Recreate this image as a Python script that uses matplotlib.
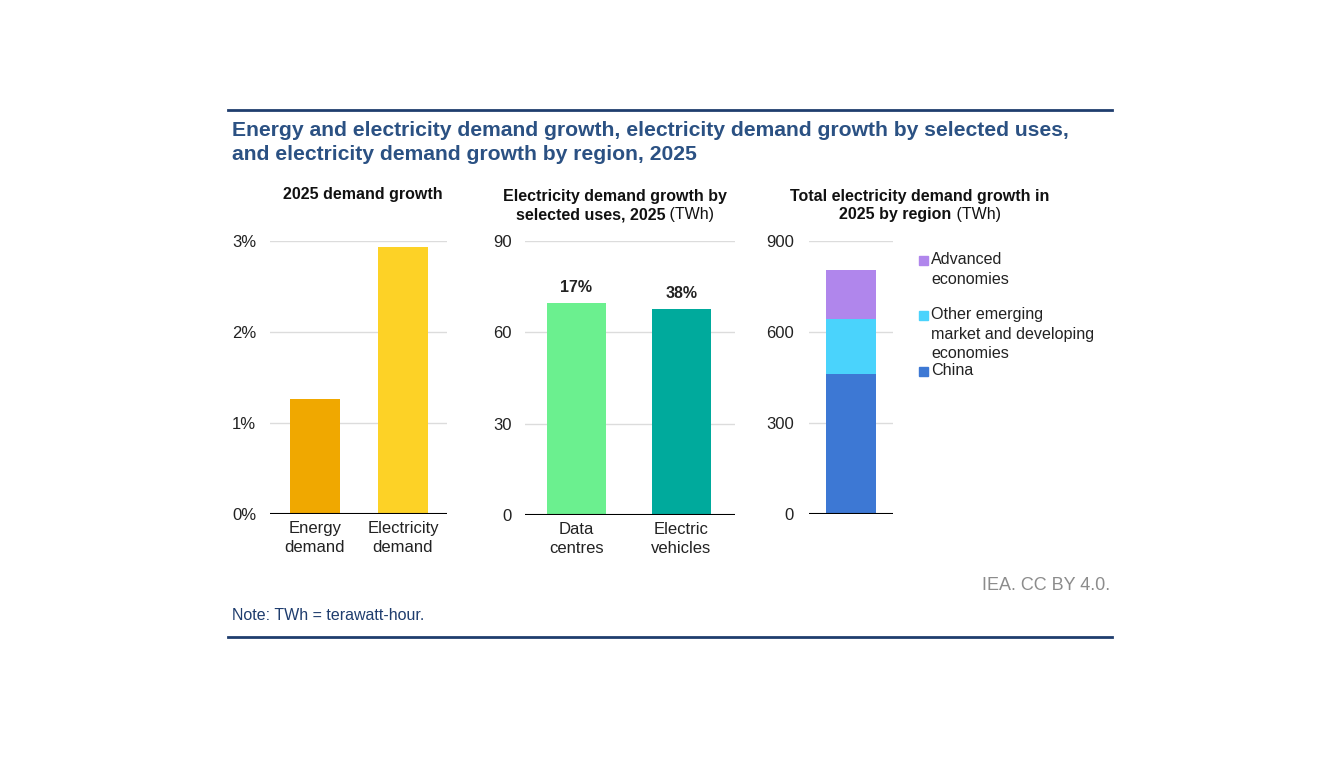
import matplotlib.pyplot as plt
from matplotlib.lines import Line2D
from matplotlib.patches import Rectangle

plt.rcParams['font.family'] = ['Liberation Sans', 'DejaVu Sans']

# Data
growth_labels = ['Energy\ndemand', 'Electricity\ndemand']
growth_pct = [1.26, 2.93]

use_labels = ['Data\ncentres', 'Electric\nvehicles']
use_twh = [69.5, 67.7]
use_growth_labels = ['17%', '38%']

region_names = ['China', 'Other emerging\nmarket and developing\neconomies', 'Advanced\neconomies']
region_twh = [463, 179, 162]

W, H = 1328, 780
fig = plt.figure(figsize=(W / 100, H / 100), dpi=100)

def fx(px):
    return px / W

def fy(py):
    return 1 - py / H

def make_ax(x0, x1, y0, y1):
    ax = fig.add_axes([fx(x0), fy(y1), fx(x1) - fx(x0), fy(y0) - fy(y1)])
    for s in ax.spines.values():
        s.set_visible(False)
    ax.tick_params(length=0, labelsize=12, colors='#222222')
    ax.grid(axis='y', color='#dcdcdc', linewidth=1)
    ax.set_axisbelow(True)
    ax.axhline(0, color='black', linewidth=1.5, zorder=3)
    return ax

# Panel 1
ax1 = make_ax(270, 447, 241, 514)
ax1.bar([0, 1], growth_pct, width=0.57, color=['#F0A800', '#FDD226'])
ax1.set_ylim(0, 3)
ax1.set_xlim(-0.51, 1.5)
ax1.set_yticks([0, 1, 2, 3])
ax1.set_yticklabels(['0%', '1%', '2%', '3%'])
ax1.set_xticks([0, 1])
ax1.set_xticklabels(growth_labels, fontsize=12, linespacing=1.3)
ax1.tick_params(axis='x', pad=5)
ax1.tick_params(axis='y', pad=10)

# Panel 2
ax2 = make_ax(525, 735, 241, 515)
bars = ax2.bar([0, 1], use_twh, width=0.56, color=['#6BF08F', '#00AA9C'])
ax2.set_ylim(0, 90)
ax2.set_xlim(-0.49, 1.51)
ax2.set_yticks([0, 30, 60, 90])
ax2.set_xticks([0, 1])
ax2.set_xticklabels(use_labels, fontsize=12, linespacing=1.3)
ax2.tick_params(axis='x', pad=5)
ax2.tick_params(axis='y', pad=9.5)
for b, lab in zip(bars, use_growth_labels):
    ax2.annotate(lab, (b.get_x() + b.get_width() / 2, b.get_height()),
                 xytext=(0, 6), textcoords='offset points', ha='center', va='bottom',
                 fontsize=11.5, fontweight='bold', color='#222222')

# Panel 3
ax3 = make_ax(809, 893, 241, 514)
region_colors = ['#3D78D4', '#4AD3FC', '#B086EC']
bottom = 0
for val, col in zip(region_twh, region_colors):
    ax3.bar(0, val, width=1, bottom=bottom, color=col)
    bottom += val
ax3.set_ylim(0, 900)
ax3.set_xlim(-0.84, 0.84)
ax3.set_yticks([0, 300, 600, 900])
ax3.set_xticks([])
ax3.tick_params(axis='y', pad=11)

# Legend for panel 3
leg_items = [(region_names[2], region_colors[2], 260),
             (region_names[1], region_colors[1], 315),
             (region_names[0], region_colors[0], 371)]
for name, col, py in leg_items:
    fig.patches.append(Rectangle((fx(919), fy(py + 4.5)), fx(9), 9 / H, color=col,
                                 transform=fig.transFigure, figure=fig))
    fig.text(fx(931), fy(py - 8), name, fontsize=11.6, color='#222222', va='top',
             linespacing=1.38, transform=fig.transFigure)

# Panel titles
def mixed_title(cx, py, bold, normal=''):
    t = fig.text(fx(cx), fy(py), bold, fontsize=11.5, fontweight='bold', color='#111111',
                 ha='center', va='center')
    if normal:
        fig.canvas.draw()
        bb = t.get_window_extent()
        nt = fig.text(0, 0, ' ' + normal, fontsize=11.5, color='#111111', va='center')
        nb = nt.get_window_extent()
        shift = nb.width / 2
        t.set_x((bb.x0 + bb.width / 2 - shift) / W)
        nt.set_position(((bb.x1 - shift) / W, fy(py)))

mixed_title(363, 195, '2025 demand growth')
mixed_title(615, 197, 'Electricity demand growth by')
mixed_title(615, 215, 'selected uses, 2025', '(TWh)')
mixed_title(920, 197, 'Total electricity demand growth in')
mixed_title(920, 215, '2025 by region', '(TWh)')

# Title, rules, notes
fig.text(fx(232), fy(130), 'Energy and electricity demand growth, electricity demand growth by selected uses,',
         fontsize=15.2, fontweight='bold', color='#2B5183', va='center')
fig.text(fx(232), fy(155), 'and electricity demand growth by region, 2025',
         fontsize=15.2, fontweight='bold', color='#2B5183', va='center')
fig.lines.append(Line2D([fx(228), fx(1112)], [fy(110), fy(110)], color='#1F3D6E', linewidth=2,
                        transform=fig.transFigure))
fig.lines.append(Line2D([fx(228), fx(1112)], [fy(637), fy(637)], color='#1F3D6E', linewidth=2,
                        transform=fig.transFigure))
fig.text(fx(1110), fy(585), 'IEA. CC BY 4.0.', fontsize=13, color='#8c8c8c', ha='right', va='center')
fig.text(fx(232), fy(615), 'Note: TWh = terawatt-hour.', fontsize=11.5, color='#1F3D6E', va='center')

fig.savefig('out.png', dpi=100, facecolor='white')
